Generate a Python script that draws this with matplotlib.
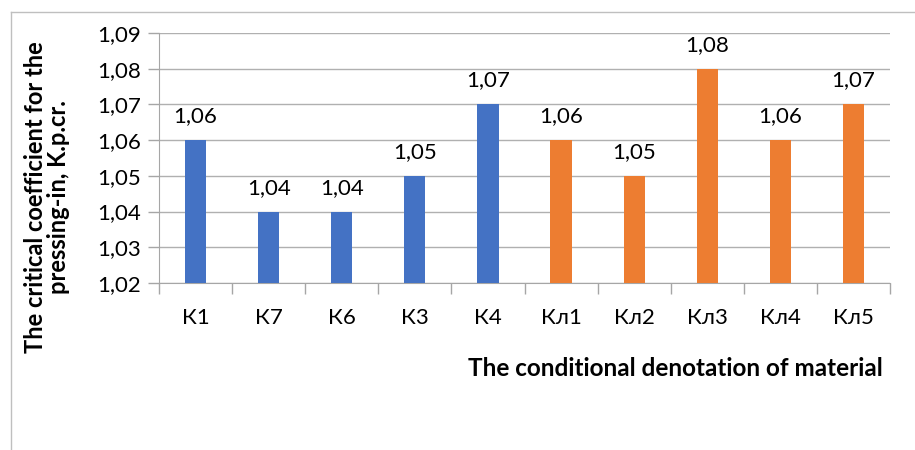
import matplotlib.pyplot as plt
from matplotlib.lines import Line2D
import numpy as np

plt.rcParams['font.family'] = ['Lato', 'DejaVu Sans']

categories = ['К1', 'К7', 'К6', 'К3', 'К4', 'Кл1', 'Кл2', 'Кл3', 'Кл4', 'Кл5']
values = [1.06, 1.04, 1.04, 1.05, 1.07, 1.06, 1.05, 1.08, 1.06, 1.07]
colors = ['#4472C4'] * 5 + ['#ED7D31'] * 5
yticks = [1.02, 1.03, 1.04, 1.05, 1.06, 1.07, 1.08, 1.09]

fig = plt.figure(figsize=(9.15, 4.5), dpi=100)
ax = fig.add_axes([159 / 915, 1 - 283 / 450, 731 / 915, 250 / 450])

x = np.arange(len(categories))
ax.bar(x, [v - 1.02 for v in values], bottom=1.02, width=0.29, color=colors, zorder=3)
for xi, v in zip(x, values):
    ax.annotate(f'{v:.2f}'.replace('.', ','), (xi, v), xytext=(0, 10),
                textcoords='offset points', ha='center', va='bottom',
                fontsize=16, color='#000000')

ax.set_xlim(-0.5, len(categories) - 0.5)
ax.set_ylim(1.02, 1.09)
ax.set_yticks(yticks)
ax.set_yticklabels([f'{t:.2f}'.replace('.', ',') for t in yticks], fontsize=16)
ax.yaxis.grid(True, color='#b0b0b0', linewidth=1, zorder=0)
ax.set_xticks(x)
ax.set_xticklabels(categories, fontsize=16)
ax.set_xticks(np.arange(-0.5, len(categories)), minor=True)
ax.tick_params(axis='x', which='major', length=0, pad=18)
ax.tick_params(axis='x', which='minor', length=8, color='#a6a6a6', width=1)
ax.tick_params(axis='y', length=8, color='#a6a6a6', width=1, pad=5)
for s in ['top', 'right']:
    ax.spines[s].set_visible(False)
ax.spines['left'].set_color('#a6a6a6')
ax.spines['bottom'].set_color('#a6a6a6')

fig.text(47 / 915, 1 - 197 / 450, 'The critical coefficient for the\npressing-in, K.p.cr.',
         rotation=90, ha='center', va='center', fontsize=17, fontweight='bold',
         linespacing=1.05)
fig.text(675 / 915, 1 - 368 / 450, 'The conditional denotation of material',
         ha='center', va='center', fontsize=17.5, fontweight='bold')

# chart frame
fig.add_artist(Line2D([11 / 915, 11 / 915], [0, 1 - 12 / 450], transform=fig.transFigure,
                      color='#bfbfbf', linewidth=1))
fig.add_artist(Line2D([11 / 915, 1], [1 - 12 / 450, 1 - 12 / 450], transform=fig.transFigure,
                      color='#bfbfbf', linewidth=1))

fig.savefig('out.png', dpi=100)
